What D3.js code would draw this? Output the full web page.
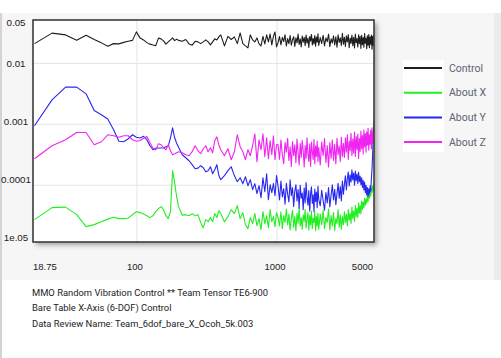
<!DOCTYPE html>
<html><head><meta charset="utf-8">
<script src="https://cdn.jsdelivr.net/npm/d3@7"></script>
<style>body{margin:0;background:#fff;} svg{display:block;font-family:Roboto,"Noto Sans",sans-serif;}</style>
</head><body><svg id="c" width="501" height="358"></svg>
<script>
const freqs=[18.75,25,31.25,37.5,43.75,50,56.25,62.5,68.75,75,81.25,87.5,93.75,100,
106.25,112.5,118.75,125,131.25,137.5,143.75,150,156.25,162.5,168.75,175,181.25,187.5,193.75,200,
212.5,225,237.5,250,262.5,275,287.5,300,312.5,325,337.5,350,362.5,375,387.5,400,
425,450,475,500,525,550,575,600,625,650,675,700,725,750,775,800,825,850,875,900,925,950,975,1000,
1025,1050,1075,1100,1125,1150,1175,1200,1225,1250,1275,1300,1325,1350,1375,1400,1425,1450,1475,1500,
1525,1550,1575,1600,1625,1650,1675,1700,1725,1750,1775,1800,1825,1850,1875,1900,1925,1950,1975,2000,
2050,2100,2150,2200,2250,2300,2350,2400,2450,2500,2550,2600,2650,2700,2750,2800,2850,2900,2950,3000,
3050,3100,3150,3200,3250,3300,3350,3400,3450,3500,3550,3600,3650,3700,3750,3800,3850,3900,3950,4000,
4050,4100,4150,4200,4250,4300,4350,4400,4450,4500,4550,4600,4650,4700,4750,4800,4850,4900,4950,5000];

const control=[0.0207,0.0308,0.0288,0.0236,0.0285,0.0242,0.0213,0.0188,0.0207,0.0205,0.0217,0.0226,0.0234,0.0323,
0.0255,0.0238,0.0215,0.0203,0.0197,0.0192,0.0255,0.0248,0.0230,0.0203,0.0221,0.0238,0.0257,0.0232,0.0245,0.0234,
0.0226,0.0242,0.0205,0.0195,0.0226,0.0221,0.0207,0.0221,0.0238,0.0221,0.0197,0.0221,0.0248,0.0238,0.0267,0.0288,
0.0190,0.0272,0.0242,0.0267,0.0207,0.0310,0.0207,0.0190,0.0176,0.0288,0.0238,0.0221,0.0257,0.0205,0.0190,0.0272,0.0205,0.0288,0.0221,0.0298,0.0197,0.0272,0.0321,0.0183,
0.0215,0.0271,0.0198,0.0262,0.0224,0.0290,0.0189,0.0251,0.0207,0.0282,0.0195,0.0240,0.0268,0.0186,0.0259,0.0213,0.0297,0.0201,0.0248,0.0182,
0.0275,0.0219,0.0263,0.0192,0.0286,0.0210,0.0255,0.0179,0.0270,0.0228,0.0293,0.0196,0.0252,0.0205,0.0281,0.0187,0.0266,0.0218,0.0301,0.0193,
0.0260,0.0208,0.0284,0.0190,0.0257,0.0223,0.0296,0.0185,0.0249,0.0212,0.0279,0.0197,0.0268,0.0181,0.0288,0.0216,0.0258,0.0194,0.0305,0.0203,
0.0264,0.0186,0.0277,0.0221,0.0292,0.0178,0.0255,0.0209,0.0285,0.0191,0.0262,0.0175,0.0298,0.0214,0.0251,0.0183,0.0289,0.0206,0.0273,0.0172,
0.0283,0.0199,0.0260,0.0180,0.0302,0.0211,0.0256,0.0170,0.0279,0.0195,0.0291,0.0177,0.0266,0.0202,0.0287,0.0168,0.0274,0.0193,0.0281,0.0188];

const aboutX=[2.67e-5,4.20e-5,4.28e-5,3.22e-5,2.05e-5,2.21e-5,2.47e-5,2.72e-5,2.93e-5,2.77e-5,2.77e-5,2.84e-5,3.22e-5,3.59e-5,
3.48e-5,3.29e-5,3.10e-5,2.88e-5,3.10e-5,3.61e-5,4.04e-5,4.36e-5,3.89e-5,3.10e-5,2.77e-5,3.61e-5,1.70e-4,1.08e-4,6.35e-5,4.36e-5,
3.16e-5,3.22e-5,3.10e-5,3.35e-5,3.10e-5,3.22e-5,2.39e-5,1.97e-5,2.67e-5,2.47e-5,2.88e-5,2.47e-5,3.35e-5,2.88e-5,3.75e-5,3.35e-5,
2.47e-5,2.99e-5,3.89e-5,3.35e-5,4.53e-5,2.77e-5,3.48e-5,2.21e-5,1.90e-5,2.88e-5,2.30e-5,3.35e-5,2.13e-5,2.77e-5,1.83e-5,3.61e-5,2.30e-5,3.10e-5,1.97e-5,3.89e-5,2.47e-5,2.99e-5,2.05e-5,3.48e-5,
2.9e-5,2.1e-5,3.6e-5,1.9e-5,3.1e-5,2.4e-5,4.0e-5,2.2e-5,3.3e-5,1.8e-5,2.8e-5,3.8e-5,2.0e-5,3.0e-5,1.75e-5,3.4e-5,2.3e-5,4.2e-5,2.1e-5,2.9e-5,
1.85e-5,3.2e-5,2.5e-5,3.9e-5,1.95e-5,2.7e-5,3.5e-5,1.8e-5,3.1e-5,2.2e-5,3.7e-5,1.9e-5,2.8e-5,2.4e-5,3.6e-5,1.75e-5,3.0e-5,2.1e-5,3.4e-5,1.85e-5,
3.3e-5,2.2e-5,3.8e-5,1.9e-5,2.9e-5,2.4e-5,4.0e-5,1.8e-5,3.1e-5,2.1e-5,3.5e-5,1.75e-5,2.8e-5,2.3e-5,3.9e-5,2.0e-5,3.2e-5,1.85e-5,3.0e-5,2.2e-5,
3.6e-5,2.4e-5,3.3e-5,2.1e-5,3.9e-5,2.6e-5,3.4e-5,2.3e-5,4.3e-5,2.8e-5,3.7e-5,2.5e-5,4.6e-5,3.0e-5,4.1e-5,2.9e-5,5.0e-5,3.4e-5,4.5e-5,3.3e-5,
5.4e-5,3.9e-5,5.2e-5,4.2e-5,6.0e-5,4.6e-5,5.8e-5,5.0e-5,6.8e-5,5.3e-5,7.2e-5,6.0e-5,8.0e-5,6.5e-5,8.8e-5,7.4e-5,9.6e-5,8.0e-5,1.05e-4,8.6e-5];

const aboutY=[9.27e-4,2.47e-3,4.00e-3,4.00e-3,3.10e-3,1.65e-3,1.41e-3,1.20e-3,7.97e-4,5.17e-4,5.07e-4,5.68e-4,6.60e-4,6.01e-4,
5.83e-4,6.24e-4,5.47e-4,4.36e-4,3.75e-4,3.97e-4,4.00e-4,4.00e-4,4.04e-4,4.20e-4,4.28e-4,5.89e-4,8.60e-4,5.89e-4,4.79e-4,4.12e-4,
3.10e-4,2.77e-4,2.47e-4,2.13e-4,1.83e-4,1.87e-4,2.05e-4,1.90e-4,1.63e-4,1.70e-4,1.97e-4,1.51e-4,1.76e-4,2.13e-4,1.41e-4,1.21e-4,
1.41e-4,1.70e-4,1.97e-4,1.41e-4,1.12e-4,1.30e-4,1.04e-4,1.35e-4,9.63e-5,1.21e-4,8.28e-5,1.04e-4,7.12e-5,9.63e-5,6.12e-5,1.30e-4,7.67e-5,1.51e-4,5.67e-5,1.00e-4,7.40e-5,1.04e-4,6.61e-5,1.41e-4,
9.5e-5,5.6e-5,1.15e-4,6.3e-5,8.6e-5,4.8e-5,1.05e-4,7.0e-5,5.2e-5,1.2e-4,6.6e-5,9.0e-5,4.4e-5,7.8e-5,1.0e-4,5.4e-5,8.3e-5,4.1e-5,9.8e-5,6.0e-5,
7.3e-5,3.9e-5,8.8e-5,5.0e-5,1.08e-4,6.2e-5,4.6e-5,8.0e-5,3.7e-5,7.1e-5,9.2e-5,4.9e-5,6.8e-5,3.6e-5,8.5e-5,5.3e-5,7.6e-5,4.2e-5,9.4e-5,5.8e-5,
4.5e-5,8.1e-5,5.5e-5,3.8e-5,7.4e-5,5.0e-5,9.0e-5,4.3e-5,6.7e-5,1.0e-4,5.6e-5,8.4e-5,4.7e-5,7.2e-5,1.05e-4,6.0e-5,9.3e-5,5.4e-5,1.15e-4,7.0e-5,
1.02e-4,1.4e-4,8.2e-5,1.25e-4,1.62e-4,9.5e-5,1.45e-4,1.1e-4,1.75e-4,1.2e-4,1.55e-4,9.8e-5,1.68e-4,1.15e-4,1.5e-4,1.05e-4,1.6e-4,1.12e-4,1.38e-4,1.0e-4,
1.3e-4,9.0e-5,1.18e-4,8.2e-5,1.1e-4,7.4e-5,9.8e-5,6.8e-5,9.0e-5,6.4e-5,8.6e-5,7.0e-5,9.5e-5,7.8e-5,1.25e-4,1.8e-4,3.2e-4,6.0e-4,9.5e-4,1.25e-3];

const aboutZ=[2.67e-4,4.36e-4,5.47e-4,7.20e-4,7.20e-4,4.53e-4,5.07e-4,6.60e-4,6.36e-4,6.01e-4,6.36e-4,6.36e-4,5.47e-4,5.17e-4,
5.33e-4,5.80e-4,6.19e-4,4.89e-4,3.97e-4,3.75e-4,4.70e-4,4.53e-4,4.04e-4,3.75e-4,4.53e-4,3.61e-4,3.10e-4,3.22e-4,3.35e-4,3.48e-4,
3.35e-4,3.10e-4,2.99e-4,3.48e-4,4.36e-4,3.61e-4,3.22e-4,3.89e-4,4.36e-4,3.48e-4,4.04e-4,3.35e-4,5.26e-4,6.12e-4,4.53e-4,3.75e-4,
2.99e-4,3.89e-4,2.57e-4,3.48e-4,6.60e-4,4.20e-4,3.48e-4,2.57e-4,3.75e-4,2.99e-4,4.36e-4,6.85e-4,2.38e-4,5.47e-4,3.75e-4,6.85e-4,2.88e-4,5.89e-4,2.67e-4,5.26e-4,3.10e-4,6.36e-4,2.57e-4,4.53e-4,
4.6e-4,2.6e-4,5.4e-4,3.1e-4,2.2e-4,4.9e-4,3.4e-4,5.8e-4,2.5e-4,4.2e-4,2.0e-4,5.1e-4,3.0e-4,4.5e-4,2.3e-4,5.6e-4,3.3e-4,2.1e-4,4.8e-4,2.8e-4,
5.3e-4,3.6e-4,1.95e-4,4.4e-4,2.7e-4,5.9e-4,3.2e-4,2.4e-4,4.7e-4,2.0e-4,5.0e-4,3.5e-4,2.6e-4,5.5e-4,2.2e-4,4.3e-4,2.9e-4,5.2e-4,2.4e-4,4.1e-4,
2.1e-4,5.0e-4,3.0e-4,5.7e-4,2.3e-4,4.4e-4,1.95e-4,4.9e-4,2.7e-4,5.4e-4,2.5e-4,4.6e-4,2.2e-4,5.8e-4,3.1e-4,4.3e-4,2.4e-4,6.0e-4,2.9e-4,4.8e-4,
2.8e-4,5.9e-4,3.4e-4,6.6e-4,2.6e-4,5.2e-4,3.6e-4,7.0e-4,3.0e-4,5.6e-4,3.3e-4,7.3e-4,2.9e-4,6.2e-4,3.8e-4,6.8e-4,2.7e-4,5.7e-4,3.5e-4,7.6e-4,
3.9e-4,6.4e-4,3.2e-4,8.0e-4,4.2e-4,6.9e-4,3.4e-4,7.4e-4,4.5e-4,8.4e-4,3.7e-4,6.6e-4,4.6e-4,7.9e-4,3.9e-4,8.6e-4,4.8e-4,7.1e-4,5.2e-4,5.6e-4];

const seriesNames=["Control","About X","About Y","About Z"];
const seriesColors=["#1e1e1e","#22ee22","#2727f2","#f024f0"];
const xTicks=[18.75,100,1000,5000];
const xTickLabels=["18.75","100","1000","5000"];
const yTicks=[0.05,0.01,0.001,0.0001,0.00001];
const yTickLabels=["0.05","0.01","0.001","0.0001","1e.05"];
const yGrid=[0.01,0.001,0.0001];
const xGrid=[100,1000];
const footnotes=["MMO Random Vibration Control ** Team Tensor TE6-900",
"Bare Table X-Axis (6-DOF) Control",
"Data Review Name: Team_6dof_bare_X_Ocoh_5k.003"];

const seriesData=[control,aboutX,aboutY,aboutZ];

const svg=d3.select("#c");
const P={l:33,t:20,r:374,b:242};
const x=d3.scaleLog().domain([18.75,5000]).range([34.5,374.5]);
const y=d3.scaleLog().domain([1e-5,0.05]).range([245.6,20.3]);
const yLab=d3.scaleLog().domain([1e-5,0.05]).range([237,22]);

const defs=svg.append("defs");
const f=defs.append("filter").attr("id","sh").attr("x","-10%").attr("y","-10%").attr("width","130%").attr("height","130%");
f.append("feDropShadow").attr("dx",3).attr("dy",3).attr("stdDeviation",2.5).attr("flood-color","#000").attr("flood-opacity",0.35);
defs.append("clipPath").attr("id","clip").append("rect").attr("x",P.l).attr("y",P.t).attr("width",P.r-P.l).attr("height",P.b-P.t);

// page backgrounds
svg.append("rect").attr("x",2).attr("y",13).attr("width",492).attr("height",267).attr("fill","#f6f6f6");
svg.append("rect").attr("x",494).attr("y",13).attr("width",7).attr("height",267).attr("fill","#ececec");
svg.append("line").attr("x1",1).attr("x2",1).attr("y1",13).attr("y2",358).attr("stroke","#d4d4d4").attr("stroke-width",2);

// plot panel
svg.append("rect").attr("x",P.l).attr("y",P.t).attr("width",P.r-P.l).attr("height",P.b-P.t)
  .attr("fill","#fff").attr("filter","url(#sh)");

// grid
svg.append("g").attr("transform",`translate(${P.l},0)`)
  .call(d3.axisLeft(y).tickValues(yGrid).tickSize(-(P.r-P.l)).tickFormat(""))
  .call(g=>{g.select(".domain").remove();g.selectAll("line").attr("stroke","#e4e4e4");});
svg.append("g").attr("transform",`translate(0,${P.b})`)
  .call(d3.axisBottom(x).tickValues(xGrid).tickSize(-(P.b-P.t)).tickFormat(""))
  .call(g=>{g.select(".domain").remove();g.selectAll("line").attr("stroke","#e4e4e4");});

// series
const line=d3.line().x((d,i)=>x(freqs[i])).y(d=>y(d));
const plot=svg.append("g").attr("clip-path","url(#clip)");
seriesData.forEach((s,k)=>{
  plot.append("path").datum(s).attr("d",line).attr("fill","none")
    .attr("stroke",seriesColors[k]).attr("stroke-width",1.1).attr("stroke-linejoin","round");
});

// frame
svg.append("rect").attr("x",P.l).attr("y",P.t).attr("width",P.r-P.l).attr("height",P.b-P.t)
  .attr("fill","none").attr("stroke","#3c3c3c").attr("stroke-width",1.6);

// axes labels
const xa=svg.append("g").attr("transform","translate(-2,267)")
  .call(d3.axisBottom(x).tickValues(xTicks).tickFormat((d,i)=>xTickLabels[i]).tickSize(0).tickPadding(0));
xa.select(".domain").remove();
xa.selectAll("text").attr("y",0).attr("dy","0.35em").attr("font-size",9.5).attr("fill","#222").attr("font-family",null)
  .attr("text-anchor",(d,i)=>i===0?"start":(i===xTicks.length-1?"end":"middle"));

const ya=svg.append("g").attr("transform","translate(16,0)")
  .call(d3.axisLeft(yLab).tickValues(yTicks).tickFormat((d,i)=>yTickLabels[i]).tickSize(0).tickPadding(0));
ya.select(".domain").remove();
ya.selectAll("text").attr("x",0).attr("dy","0.35em").attr("font-size",9.8).attr("fill","#222").attr("font-family",null)
  .attr("text-anchor","middle");

// legend
svg.append("rect").attr("x",403).attr("y",60).attr("width",41).attr("height",92).attr("fill","#fff");
const lg=svg.append("g");
seriesNames.forEach((n,k)=>{
  const yy=68+k*24.7;
  lg.append("line").attr("x1",404).attr("x2",442).attr("y1",yy).attr("y2",yy)
    .attr("stroke",seriesColors[k]).attr("stroke-width",2);
  lg.append("text").attr("x",449).attr("y",yy).attr("dy","0.35em").attr("font-size",10.5)
    .attr("fill","#5b6374").text(n);
});

// footnotes
svg.append("g").selectAll("text").data(footnotes).join("text")
  .attr("x",32).attr("y",(d,i)=>295.5+i*15.5).attr("font-size",9.4).attr("fill","#222").text(d=>d);
</script></body></html>
